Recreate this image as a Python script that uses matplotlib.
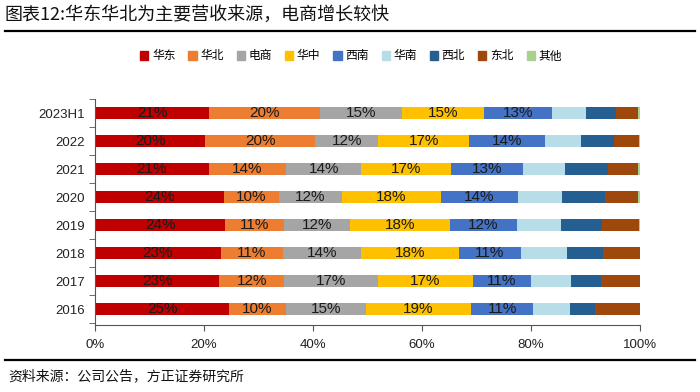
import numpy as np
import matplotlib
matplotlib.use('Agg')
import matplotlib.pyplot as plt
from matplotlib.patches import Patch

plt.rcParams['font.family'] = ['Liberation Sans', 'Noto Sans CJK SC']

# Years, bottom to top
years = ['2016', '2017', '2018', '2019', '2020', '2021', '2022', '2023H1']

# Revenue share by region (%)
east = [24.6, 22.8, 23.1, 23.9, 23.6, 20.9, 20.2, 21.0]
north = [10.4, 11.9, 11.4, 10.8, 10.1, 14.2, 20.2, 20.3]
ecommerce = [14.7, 17.2, 14.3, 12.0, 11.6, 13.7, 11.6, 15.1]
central = [19.3, 17.4, 18.0, 18.4, 18.2, 16.6, 16.7, 14.9]
southwest = [11.4, 10.7, 11.3, 12.3, 14.1, 13.1, 13.8, 12.6]
south = [6.7, 7.4, 8.5, 8.1, 8.1, 7.8, 6.6, 6.2]
northwest = [4.6, 5.4, 6.7, 7.6, 7.9, 7.9, 6.1, 5.5]
northeast = [8.3, 7.2, 6.7, 6.7, 6.1, 5.5, 4.6, 4.0]
other = [0.0, 0.0, 0.0, 0.2, 0.3, 0.3, 0.2, 0.4]

series_names = ['华东', '华北', '电商', '华中', '西南', '华南', '西北', '东北', '其他']
series_values = [east, north, ecommerce, central, southwest, south, northwest, northeast, other]
colors = ['#C00000', '#ED7D31', '#A5A5A5', '#FFC000', '#4472C4',
          '#B7DEE8', '#255E91', '#9E480E', '#A9D18E']
labelled = 5  # only the first five series carry labels

fig = plt.figure(figsize=(7, 3.92), dpi=100)
ax = fig.add_axes([95 / 700, 1 - 325 / 392, 545 / 700, 226 / 392])

y = np.arange(len(years))
left = np.zeros(len(years))
for i, (name, vals) in enumerate(zip(series_names, series_values)):
    vals = np.array(vals)
    ax.barh(y, vals, left=left, height=0.46, color=colors[i], label=name)
    if i < labelled:
        for yy, l, v in zip(y, left, vals):
            ax.text(l + v / 2, yy, f'{v:.0f}%', ha='center', va='center',
                    fontsize=11, color='#1a1a1a', family='Liberation Sans')
    left = left + vals

ax.set_xlim(0, 100)
ax.set_ylim(-0.57, 7.5)
ax.set_xticks(np.arange(0, 101, 20))
ax.set_xticklabels([f'{v}%' for v in range(0, 101, 20)], fontsize=9.5, color='#222222')
ax.set_yticks(y)
ax.set_yticklabels(years, fontsize=9.5, color='#222222')
ax.set_yticks(np.arange(-0.5, 7.6, 1), minor=True)
ax.tick_params(axis='y', which='major', length=0, pad=7)
ax.tick_params(axis='y', which='minor', length=4, color='#555555')
ax.tick_params(axis='x', length=4, color='#555555', pad=6)
for s in ['top', 'right']:
    ax.spines[s].set_visible(False)
for s in ['left', 'bottom']:
    ax.spines[s].set_color('#555555')
    ax.spines[s].set_linewidth(0.8)

# legend
handles = [Patch(color=c) for c in colors]
fig.legend(handles, series_names, loc='center', bbox_to_anchor=(351 / 700, 1 - 56 / 392),
           ncol=9, frameon=False, handlelength=0.7, handleheight=0.7, handletextpad=0.3,
           columnspacing=1.1, prop={'family': 'Noto Sans CJK SC', 'size': 8.5})

# title and footer
fig.text(5 / 700, 1 - 15 / 392, '图表12:华东华北为主要营收来源，电商增长较快',
         ha='left', va='center', fontsize=13, family='Noto Sans CJK SC', color='#111111')
fig.add_artist(plt.Line2D([5 / 700, 695 / 700], [1 - 31 / 392, 1 - 31 / 392],
                          color='black', linewidth=1.6))
fig.add_artist(plt.Line2D([5 / 700, 695 / 700], [1 - 360 / 392, 1 - 360 / 392],
                          color='black', linewidth=1.6))
fig.text(8 / 700, 1 - 376 / 392, '资料来源：公司公告，方正证券研究所',
         ha='left', va='center', fontsize=10, family='Noto Sans CJK SC', color='#111111')

fig.savefig('out.png', dpi=100)
